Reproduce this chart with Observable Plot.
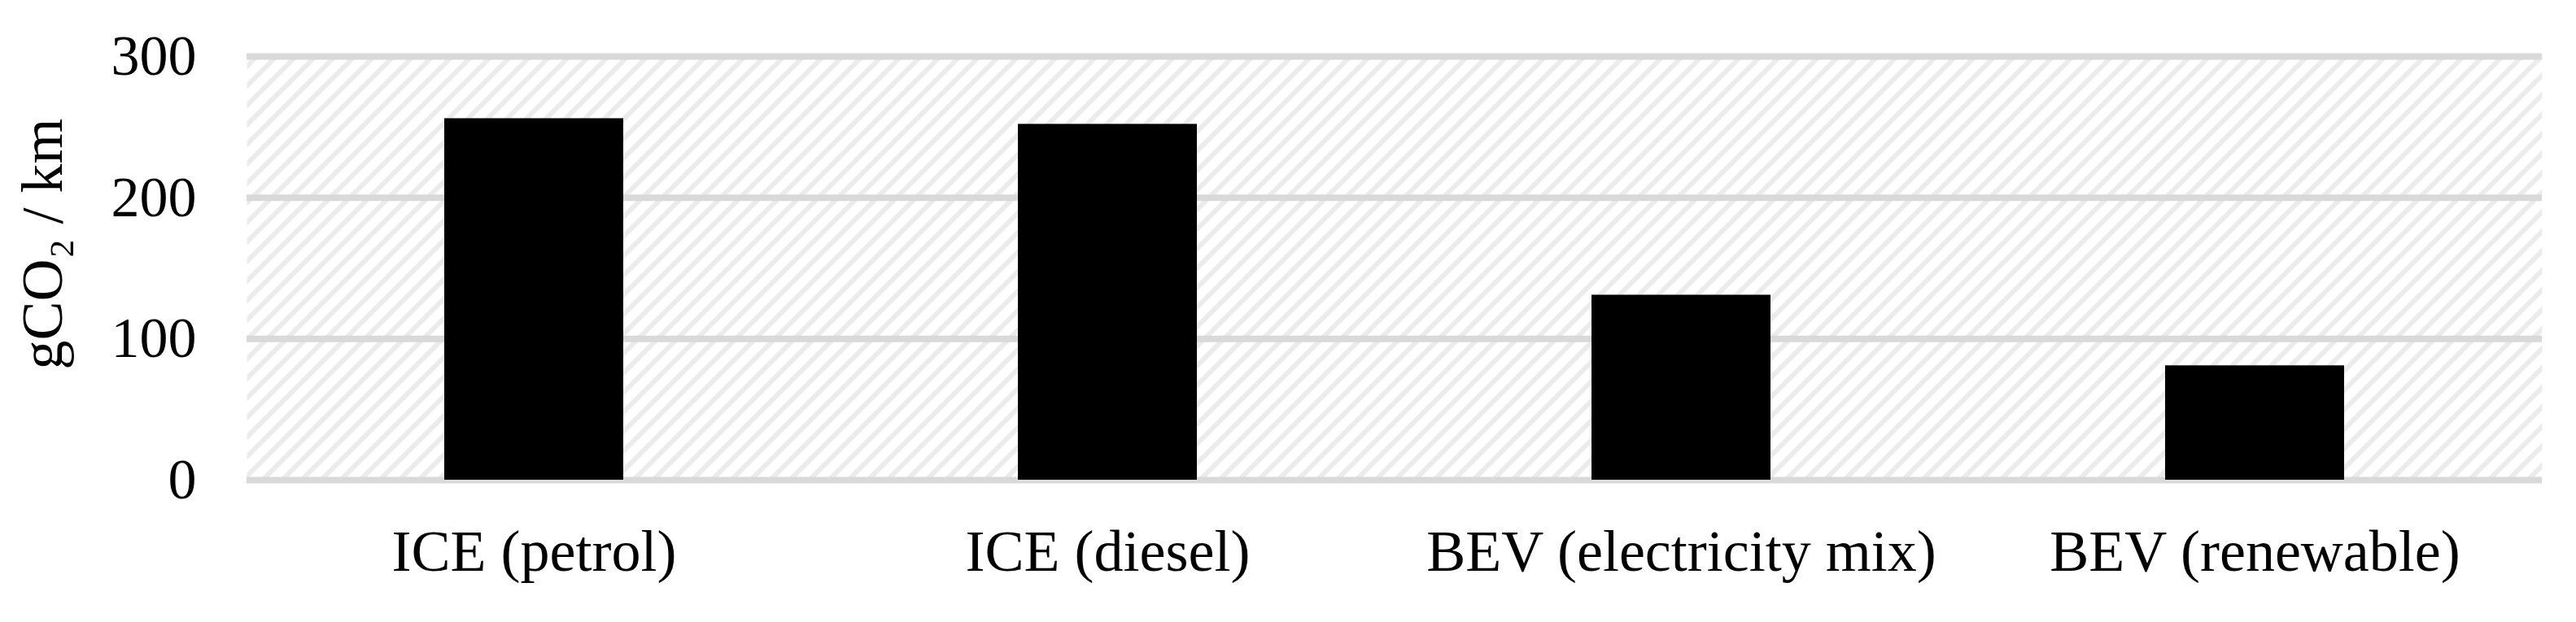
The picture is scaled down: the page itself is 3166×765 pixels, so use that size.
<!DOCTYPE html>
<html>
<head>
<meta charset="utf-8">
<script src="https://cdn.jsdelivr.net/npm/d3@7"></script>
<script src="https://cdn.jsdelivr.net/npm/@observablehq/plot@0.6"></script>
<style>
  html, body { margin: 0; padding: 0; background: #ffffff; }
  #chart svg { display: block; }
</style>
</head>
<body>
<div id="chart"></div>
<script>
const categories = ["ICE (petrol)", "ICE (diesel)", "BEV (electricity mix)", "BEV (renewable)"];
const values = [256, 252, 131, 81];
const yTicks = [0, 100, 200, 300];
const yTitle = "gCO\u2082 / km";

const data = categories.map((c, i) => ({name: c, value: values[i]}));

const plot = Plot.plot({
  width: 3166,
  height: 765,
  marginLeft: 303,
  marginRight: 42,
  marginTop: 69,
  marginBottom: 175,
  style: {fontFamily: "'Liberation Serif', 'Times New Roman', serif", background: "#ffffff", color: "#000000"},
  x: {domain: categories, paddingInner: 0.688, paddingOuter: 0.344, label: null},
  y: {domain: [0, 300], label: null},
  marks: [
    Plot.frame({fill: "url(#hatch)", stroke: "none"}),
    Plot.ruleY(yTicks, {stroke: "#d9d9d9", strokeWidth: 8}),
    Plot.barY(data, {x: "name", y: "value", fill: "#000000"}),
    Plot.axisY(yTicks, {tickSize: 0, tickPadding: 62, fontSize: 70, label: null, fill: "#000000"}),
    Plot.axisX({tickSize: 0, tickPadding: 60, fontSize: 72, label: null, fill: "#000000"}),
    Plot.text([yTitle], {frameAnchor: "left", rotate: -90, dx: -251, dy: -30, fontSize: 72, textAnchor: "middle", lineAnchor: "middle", fill: "#000000"})
  ]
});

const ns = "http://www.w3.org/2000/svg";
const defs = document.createElementNS(ns, "defs");
const pattern = document.createElementNS(ns, "pattern");
pattern.setAttribute("id", "hatch");
pattern.setAttribute("patternUnits", "userSpaceOnUse");
pattern.setAttribute("width", "24");
pattern.setAttribute("height", "24");
const path = document.createElementNS(ns, "path");
path.setAttribute("d", "M-6,6 L6,-6 M0,24 L24,0 M18,30 L30,18");
path.setAttribute("stroke", "#ebebeb");
path.setAttribute("stroke-width", "6");
pattern.appendChild(path);
defs.appendChild(pattern);
plot.insertBefore(defs, plot.firstChild);

document.getElementById("chart").appendChild(plot);
</script>
</body>
</html>
